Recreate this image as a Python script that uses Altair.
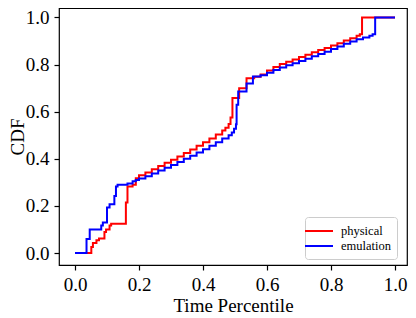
import altair as alt
import pandas as pd

series_names = ["physical", "emulation"]
series_colors = ["#ff0000", "#0000ff"]

red_x = [0.0, 0.051, 0.056, 0.067, 0.075, 0.092, 0.097, 0.108, 0.113, 0.159, 0.164,
         0.180, 0.190, 0.200, 0.22, 0.24, 0.26, 0.28, 0.30, 0.32, 0.34, 0.36, 0.38,
         0.40, 0.42, 0.44, 0.46, 0.47, 0.48, 0.486, 0.492, 0.513, 0.536, 0.56, 0.58,
         0.60, 0.62, 0.64, 0.66, 0.68, 0.70, 0.72, 0.74, 0.76, 0.78, 0.80, 0.82,
         0.84, 0.86, 0.88, 0.89, 0.897, 1.0]
red_y = [0.0, 0.026, 0.043, 0.054, 0.062, 0.089, 0.100, 0.117, 0.124, 0.215, 0.283,
         0.290, 0.318, 0.330, 0.342, 0.356, 0.370, 0.383, 0.396, 0.410, 0.425, 0.440, 0.455,
         0.470, 0.486, 0.503, 0.520, 0.532, 0.548, 0.575, 0.658, 0.700, 0.742, 0.748, 0.758,
         0.775, 0.790, 0.803, 0.812, 0.822, 0.832, 0.842, 0.852, 0.862, 0.871, 0.881, 0.891,
         0.902, 0.912, 0.922, 0.929, 1.0, 1.0]

blue_x = [0.0, 0.036, 0.046, 0.082, 0.087, 0.100, 0.108, 0.123, 0.128, 0.133, 0.164,
          0.180, 0.190, 0.200, 0.22, 0.24, 0.26, 0.28, 0.30, 0.32, 0.34, 0.36, 0.38,
          0.40, 0.42, 0.44, 0.46, 0.48, 0.49, 0.497, 0.503, 0.505, 0.510, 0.536, 0.556,
          0.58, 0.60, 0.62, 0.64, 0.66, 0.68, 0.70, 0.72, 0.74, 0.76, 0.78, 0.80,
          0.82, 0.84, 0.86, 0.88, 0.90, 0.92, 0.93, 0.938, 1.0]
blue_y = [0.0, 0.060, 0.100, 0.117, 0.130, 0.193, 0.207, 0.242, 0.283, 0.290, 0.295,
          0.305, 0.310, 0.316, 0.326, 0.338, 0.350, 0.362, 0.374, 0.386, 0.400, 0.413, 0.427,
          0.441, 0.455, 0.470, 0.486, 0.500, 0.512, 0.528, 0.547, 0.630, 0.686, 0.720, 0.750,
          0.755, 0.765, 0.777, 0.788, 0.797, 0.806, 0.815, 0.825, 0.835, 0.845, 0.855, 0.866,
          0.877, 0.888, 0.898, 0.908, 0.915, 0.922, 0.929, 1.0, 1.0]

tick_values = [0.0, 0.2, 0.4, 0.6, 0.8, 1.0]

df_red = pd.DataFrame({"x": red_x, "y": red_y, "series": series_names[0]})
df_blue = pd.DataFrame({"x": blue_x, "y": blue_y, "series": series_names[1]})

FONT = "Liberation Serif"

xenc = alt.X("x:Q",
             scale=alt.Scale(domain=[-0.05, 1.0375], nice=False, zero=False),
             axis=alt.Axis(title="Time Percentile", values=tick_values, format=".1f",
                           grid=False, tickSize=5, labelPadding=5, titlePadding=2,
                           domain=False))
yenc = alt.Y("y:Q",
             scale=alt.Scale(domain=[-0.0508, 1.0403], nice=False, zero=False),
             axis=alt.Axis(title="CDF", values=tick_values, format=".1f",
                           grid=False, tickSize=5, labelPadding=5, titlePadding=-2,
                           domain=False))
color = alt.Color("series:N",
                  scale=alt.Scale(domain=series_names, range=series_colors),
                  legend=alt.Legend(title=None, orient="none", legendX=246, legendY=209,
                                    symbolType="M-2,0H2", symbolSize=196,
                                    symbolStrokeWidth=2, labelFont=FONT,
                                    labelFontSize=12.5, labelColor="black",
                                    fillColor="white",
                                    strokeColor="#cccccc", cornerRadius=3, padding=6,
                                    rowPadding=0, labelOffset=14))

red = alt.Chart(df_red).mark_line(interpolate="step-after", strokeWidth=2).encode(
    x=xenc, y=yenc, color=color)
blue = alt.Chart(df_blue).mark_line(interpolate="step-after", strokeWidth=2).encode(
    x=xenc, y=yenc, color=color)

chart = alt.layer(red, blue).properties(
    width=348, height=257,
    autosize=alt.AutoSizeParams(type="none"),
    padding={"left": 51, "top": 0, "right": 1, "bottom": 50},
).configure_view(stroke="black", strokeWidth=1.2).configure_axis(
    labelFont=FONT, titleFont=FONT, labelFontSize=19, titleFontSize=19,
    labelColor="black", titleColor="black", tickColor="black", titleFontWeight="normal",
    tickWidth=1.2,
)

chart.save("out.html", embed_options={"renderer": "svg", "actions": False})
